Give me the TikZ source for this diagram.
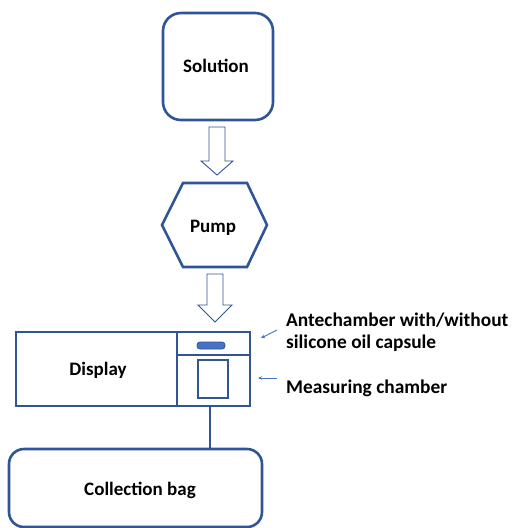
\documentclass[tikz,border=0pt]{standalone}
\usepackage{fontspec}
\setmainfont{Carlito}
\usetikzlibrary{arrows.meta}
\begin{document}
\begin{tikzpicture}[x=1pt,y=-1pt,
  every node/.style={font=\bfseries\fontsize{19}{22}\selectfont, text=black},
  outline/.style={draw=frameblue, line width=2.6pt},
  blockarrow/.style={draw=frameblue, line width=0.9pt, fill=white, line join=miter},
  pointer/.style={draw=pointblue, line width=0.9pt, -{Stealth[length=4pt,width=3.5pt]}},
  sidelabel/.style={anchor=base west, font=\bfseries\fontsize{19.4}{23}\selectfont, inner sep=0pt}
]
\definecolor{frameblue}{HTML}{2F5597}
\definecolor{pointblue}{HTML}{4472C4}
\useasboundingbox (0,0) rectangle (514,528);

% Solution
\draw[outline, rounded corners=18pt] (163,13) rectangle (273,120);
\node (sol) at (216,66) {Solution};

% block arrow solution -> pump
\draw[blockarrow] (209,127) -- (225,127) -- (225,161) -- (233,161) -- (217,175)
  -- (201,161) -- (209,161) -- cycle;

% Pump hexagon
\draw[outline, line join=miter] (162,225) -- (183,183) -- (247,183) -- (267,225)
  -- (247,267) -- (183,267) -- cycle;
\node (pump) at (213,228) {Pump};

% block arrow pump -> device
\draw[blockarrow] (207,274) -- (223,274) -- (223,305) -- (232,305) -- (215,322)
  -- (198,305) -- (207,305) -- cycle;

% Display and chamber unit
\draw[outline] (16,332) rectangle (177,406);
\node (disp) at (98,370) {Display};
\draw[outline] (177,332) rectangle (250,406);
\draw[draw=frameblue, line width=1.2pt] (177,355) -- (250,355);
\draw[draw=frameblue, fill=pointblue, line width=0.8pt, rounded corners=3pt] (197,342) rectangle (225,349);
\draw[draw=frameblue, line width=1.4pt] (198,360) rectangle (228,398);
\coordinate (ante) at (261,338);
\coordinate (meas) at (258,378);
\coordinate (chbot) at (210,406);

% side labels
\node[sidelabel] (antelbl) at (286,326) {Antechamber with/without};
\node[sidelabel] (silbl) at (286,348) {silicone oil capsule};
\node[sidelabel] (measlbl) at (286,393) {Measuring chamber};
\draw[pointer] (277,330) -- (ante);
\draw[pointer] (277,378) -- (meas);

% Collection bag
\draw[outline, rounded corners=15pt] (9,449) rectangle (262,527);
\node (bag) at (140,490) {Collection bag};
\coordinate (bagtop) at (210,449);
\draw[draw=frameblue, line width=2pt] (chbot) -- (bagtop);
\end{tikzpicture}
\end{document}
